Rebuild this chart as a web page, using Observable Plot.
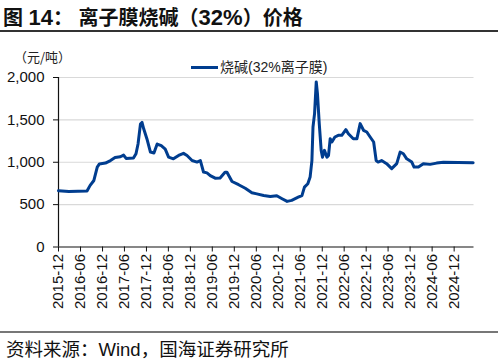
<!DOCTYPE html>
<html>
<head>
<meta charset="utf-8">
<script src="https://cdn.jsdelivr.net/npm/d3@7"></script>
<script src="https://cdn.jsdelivr.net/npm/@observablehq/plot@0.6"></script>
<style>
  html, body { margin: 0; padding: 0; background: #fff; }
  #wrap { position: relative; width: 498px; height: 361px; overflow: hidden; font-family: "Liberation Sans", Arial, "Noto Sans CJK SC", sans-serif; }
  #title { position: absolute; left: 3px; top: 2px; font-size: 20px; font-weight: bold; color: #111; white-space: nowrap; font-family: "Liberation Sans", "Noto Sans CJK SC", sans-serif; }
  #title .num { font-size: 22px; }
  #tline { position: absolute; left: 0; top: 30px; width: 498px; height: 2px; background: #333; }
  #chart { position: absolute; left: 0; top: 32px; }
  #unit { position: absolute; left: 14px; top: 49px; font-size: 13px; line-height: 16px; color: #222; font-family: "Noto Sans CJK SC", sans-serif; }
  #legend { position: absolute; left: 191px; top: 56px; font-size: 14px; color: #222; white-space: nowrap; font-family: "Liberation Sans", "Noto Sans CJK SC", sans-serif; }
  #legend .sw { display: inline-block; width: 27px; height: 3px; background: #003d8f; vertical-align: middle; margin-right: 2px; position: relative; top: -1px; }
  #fline { position: absolute; left: 0; top: 331px; width: 498px; height: 2px; background: #777; }
  #source { position: absolute; left: 6px; top: 335px; font-size: 18.5px; color: #111; white-space: nowrap; font-family: "Liberation Sans", "Noto Sans CJK SC", sans-serif; }
</style>
</head>
<body>
<div id="wrap">
  <div id="title">图 <span class="num">14</span>：&nbsp;离子膜烧碱（<span class="num">32%</span>）价格</div>
  <div id="tline"></div>
  <div id="chart"></div>
  <div id="unit">（元/吨）</div>
  <div id="legend"><span class="sw"></span>烧碱(32%离子膜)</div>
  <div id="fline"></div>
  <div id="source">资料来源：Wind，国海证券研究所</div>
</div>
<script>
const seriesName = "烧碱(32%离子膜)";
const dates = [
  "2015-12-01","2016-02-25","2016-07-25","2016-08-20","2016-09-20","2016-10-18","2016-11-05","2016-12-25",
  "2017-02-05","2017-03-15","2017-04-28","2017-05-25","2017-06-15","2017-08-15","2017-09-05","2017-09-22",
  "2017-10-12","2017-10-25","2017-11-08","2017-12-05","2018-01-03","2018-02-01","2018-02-28","2018-04-03",
  "2018-05-06","2018-06-03","2018-07-13","2018-08-25","2018-10-05","2018-11-03","2018-12-15","2019-01-25",
  "2019-02-22","2019-03-20","2019-04-18","2019-05-15","2019-06-25","2019-08-05","2019-09-15","2019-10-01",
  "2019-11-12","2020-01-06","2020-03-01","2020-04-25","2020-06-05","2020-08-01","2020-09-25","2020-11-18",
  "2021-01-01","2021-02-12","2021-03-22","2021-05-15","2021-06-15","2021-07-06","2021-08-03","2021-08-22",
  "2021-09-06","2021-09-15","2021-09-28","2021-10-12","2021-10-22","2021-11-06","2021-11-22","2021-12-03",
  "2021-12-19","2022-01-09","2022-01-22","2022-02-05","2022-02-19","2022-03-16","2022-04-13","2022-05-12",
  "2022-06-15","2022-07-06","2022-08-16","2022-09-15","2022-10-12","2022-11-09","2022-12-06","2023-01-03",
  "2023-02-01","2023-02-22","2023-03-10","2023-04-08","2023-05-20","2023-07-01","2023-08-12","2023-09-09",
  "2023-10-06","2023-11-03","2023-12-15","2024-01-03","2024-02-08","2024-03-20","2024-05-15","2024-07-08",
  "2024-09-03","2025-05-08"
];
const values = [
  665,655,660,727,785,943,980,990,
  1020,1055,1065,1085,1045,1050,1100,1215,
  1450,1470,1395,1275,1120,1110,1215,1195,
  1155,1060,1040,1080,1105,1080,1020,1002,
  1020,885,875,843,812,815,883,883,
  773,735,693,640,627,607,595,605,
  570,538,550,588,607,707,747,825,
  1020,1416,1574,1948,1810,1456,1140,1060,
  1140,1060,1080,1278,1240,1298,1318,1318,
  1385,1337,1278,1278,1456,1377,1357,1298,
  1239,1020,1002,1020,983,924,983,1120,
  1100,1040,1002,943,943,983,975,990,
  1000,995
];
const xTickLabels = ["2015-12","2016-06","2016-12","2017-06","2017-12","2018-06","2018-12","2019-06","2019-12",
  "2020-06","2020-12","2021-06","2021-12","2022-06","2022-12","2023-06","2023-12","2024-06","2024-12"];
const yTicks = [0, 500, 1000, 1500, 2000];

const data = dates.map((d, i) => ({date: new Date(d + "T00:00:00Z"), value: values[i], series: seriesName}));
const xTicks = xTickLabels.map(s => new Date(s + "-01T00:00:00Z"));
const x0 = new Date("2015-12-01T00:00:00Z");
const x1 = new Date("2025-05-15T00:00:00Z");

const chart = Plot.plot({
  width: 498,
  height: 300,
  marginLeft: 58,
  marginRight: 24.5,
  marginTop: 45,
  marginBottom: 85.5,
  style: {fontFamily: "'Liberation Sans', Arial, sans-serif", fontSize: "15px", color: "#111", background: "transparent", overflow: "visible"},
  x: {type: "utc", domain: [x0, x1]},
  y: {domain: [0, 2000]},
  marks: [
    Plot.gridY(yTicks.filter(d => d > 0), {stroke: "#d9d9d9", strokeOpacity: 1, strokeWidth: 1.2}),
    Plot.axisY({ticks: yTicks, tickFormat: d3.format(","), tickSize: 5, tickPadding: 9, label: null, fontSize: 15, stroke: "#111"}),
    Plot.axisX({ticks: xTicks, tickFormat: d3.utcFormat("%Y-%m"), tickRotate: -90, tickSize: 5, tickPadding: 2, label: null, fontSize: 15, stroke: "#111"}),
    Plot.ruleY([0], {stroke: "#111", strokeWidth: 1.2}),
    Plot.ruleX([x0], {y1: 0, y2: 2000, stroke: "#111", strokeWidth: 1.2}),
    Plot.line(data, {x: "date", y: "value", stroke: "#003d8f", strokeWidth: 3, strokeLinejoin: "round"})
  ]
});
document.getElementById("chart").appendChild(chart);
</script>
</body>
</html>
